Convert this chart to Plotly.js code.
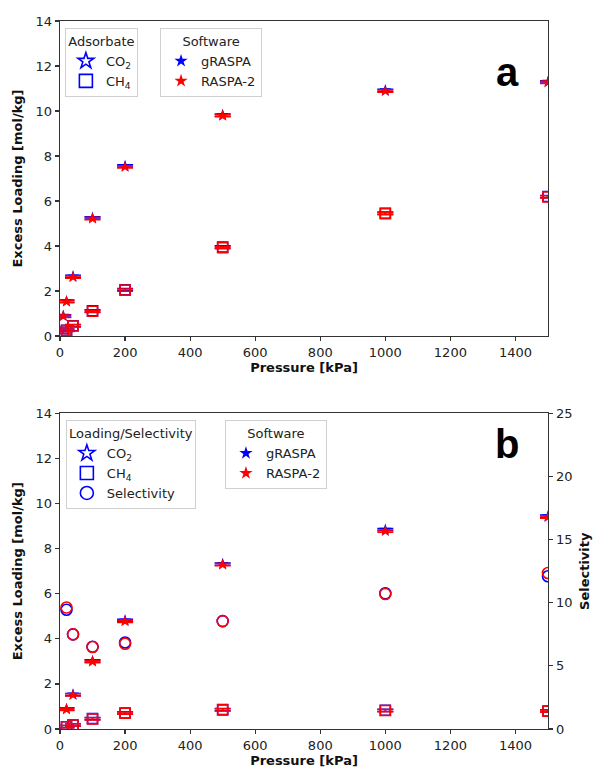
<!DOCTYPE html>
<html>
<head>
<meta charset="utf-8">
<script src="https://cdn.plot.ly/plotly-3.0.1.min.js"></script>
<style>html,body{margin:0;padding:0;background:#fff}#chart{width:597px;height:773px}</style>
</head>
<body>
<div id="chart"></div>
<script>
// ---- Panel a data ----
var pressureA = [10, 20, 40, 100, 200, 500, 1000, 1500];
var co2A_gRASPA = [0.90, 1.55, 2.65, 5.25, 7.56, 9.82, 10.92, 11.30];
var co2A_RASPA2 = [0.88, 1.53, 2.62, 5.22, 7.52, 9.79, 10.88, 11.27];
var ch4A_gRASPA = [0.17, 0.26, 0.46, 1.12, 2.06, 3.96, 5.46, 6.20];
var ch4A_RASPA2 = [0.16, 0.25, 0.45, 1.10, 2.04, 3.93, 5.44, 6.18];
var errA = [0.05, 0.05, 0.05, 0.05, 0.05, 0.05, 0.05, 0.05];

// ---- Panel b data ----
var pressureB = [20, 40, 100, 200, 500, 1000, 1500];
var co2B_gRASPA = [0.89, 1.53, 3.02, 4.82, 7.32, 8.84, 9.44];
var co2B_RASPA2 = [0.87, 1.51, 2.99, 4.78, 7.29, 8.78, 9.40];
var ch4B_gRASPA = [0.10, 0.18, 0.46, 0.71, 0.86, 0.83, 0.80];
var ch4B_RASPA2 = [0.10, 0.18, 0.45, 0.70, 0.85, 0.82, 0.79];
var selB_gRASPA = [9.45, 7.50, 6.52, 6.85, 8.55, 10.75, 12.10];
var selB_RASPA2 = [9.62, 7.50, 6.50, 6.75, 8.55, 10.70, 12.36];
var errB = [0.05, 0.05, 0.05, 0.05, 0.05, 0.05, 0.05];

var BLUE = '#0000ff', RED = '#ff0000';
var FONT = 'DejaVu Sans, sans-serif';

function pts(x, y, err, color, symbol, xa, ya, size) {
  var open = symbol.indexOf('open') >= 0;
  return {
    type: 'scatter', mode: 'markers', x: x, y: y, xaxis: xa, yaxis: ya,
    showlegend: false, cliponaxis: true,
    marker: {symbol: symbol, size: size, color: color,
             line: {color: color, width: open ? 1.6 : 0}},
    error_y: err ? {type: 'data', array: err, visible: true, color: color, thickness: 1.5, width: 8} : undefined
  };
}
function leg(name, symbol, color, legend, size) {
  var open = symbol.indexOf('open') >= 0;
  return {
    type: 'scatter', mode: 'markers', x: [null], y: [null], name: name, legend: legend,
    xaxis: 'x', yaxis: 'y', showlegend: true,
    marker: {symbol: symbol, size: size, color: color,
             line: {color: color, width: open ? 1.6 : 0}}
  };
}

var traces = [
  // panel a
  pts(pressureA, ch4A_gRASPA, errA, BLUE, 'square-open', 'x', 'y', 10),
  pts(pressureA, co2A_gRASPA, errA, BLUE, 'star', 'x', 'y', 9),
  pts(pressureA, ch4A_RASPA2, errA, RED, 'square-open', 'x', 'y', 10),
  pts(pressureA, co2A_RASPA2, errA, RED, 'star', 'x', 'y', 9),
  // panel b
  pts(pressureB, ch4B_gRASPA, errB, BLUE, 'square-open', 'x2', 'y2', 10),
  pts(pressureB, co2B_gRASPA, errB, BLUE, 'star', 'x2', 'y2', 9),
  pts(pressureB, selB_gRASPA, null, BLUE, 'circle-open', 'x2', 'y3', 11),
  pts(pressureB, ch4B_RASPA2, errB, RED, 'square-open', 'x2', 'y2', 10),
  pts(pressureB, co2B_RASPA2, errB, RED, 'star', 'x2', 'y2', 9),
  pts(pressureB, selB_RASPA2, null, RED, 'circle-open', 'x2', 'y3', 11),
  // legend entries
  leg('CO<sub>2</sub>', 'star-open', BLUE, 'legend', 12),
  leg('CH<sub>4</sub>', 'square-open', BLUE, 'legend', 13),
  leg('gRASPA', 'star', BLUE, 'legend2', 10),
  leg('RASPA-2', 'star', RED, 'legend2', 10),
  leg('CO<sub>2</sub>', 'star-open', BLUE, 'legend3', 12),
  leg('CH<sub>4</sub>', 'square-open', BLUE, 'legend3', 13),
  leg('Selectivity', 'circle-open', BLUE, 'legend3', 13),
  leg('gRASPA', 'star', BLUE, 'legend4', 10),
  leg('RASPA-2', 'star', RED, 'legend4', 10)
];

var axisCommon = {
  showgrid: false, zeroline: false, showline: true, linecolor: '#333', linewidth: 1.3,
  ticks: 'outside', ticklen: 4, tickwidth: 1.2, tickcolor: '#333',
  tickfont: {family: FONT, size: 13, color: '#222'}, mirror: true
};
function ax(extra) { return Object.assign({}, axisCommon, extra); }

var legCommon = {
  bgcolor: '#fff', bordercolor: '#d0d0d0', borderwidth: 1,
  font: {family: FONT, size: 13, color: '#222'},
  xanchor: 'left', yanchor: 'top', itemwidth: 30, tracegroupgap: 0
};
function lg(title, x, y) {
  return Object.assign({}, legCommon, {x: x, y: y,
    title: {text: title, side: 'top center', font: {family: FONT, size: 13, color: '#222'}}});
}

var layout = {
  width: 597, height: 773,
  margin: {l: 60, r: 49, t: 21, b: 44},
  paper_bgcolor: '#fff', plot_bgcolor: '#fff',
  font: {family: FONT, color: '#222'},
  xaxis: ax({domain: [0, 1], range: [0, 1500], anchor: 'y', dtick: 200,
    title: {text: '<b>Pressure [kPa]</b>', font: {family: FONT, size: 13, color: '#111'}, standoff: 4}}),
  yaxis: ax({domain: [0.555, 1], range: [0, 14], anchor: 'x', dtick: 2,
    title: {text: '<b>Excess Loading [mol/kg]</b>', font: {family: FONT, size: 13, color: '#111'}, standoff: 10}}),
  xaxis2: ax({domain: [0, 1], range: [0, 1500], anchor: 'y2', dtick: 200,
    title: {text: '<b>Pressure [kPa]</b>', font: {family: FONT, size: 13, color: '#111'}, standoff: 4}}),
  yaxis2: ax({domain: [0, 0.4457], range: [0, 14], anchor: 'x2', dtick: 2,
    title: {text: '<b>Excess Loading [mol/kg]</b>', font: {family: FONT, size: 13, color: '#111'}, standoff: 10}}),
  yaxis3: ax({range: [0, 25], overlaying: 'y2', side: 'right', anchor: 'x2', dtick: 5, mirror: false,
    title: {text: '<b>Selectivity</b>', font: {family: FONT, size: 13, color: '#111'}, standoff: 8}}),
  legend: lg('Adsorbate', 0.01, 0.99),
  legend2: lg('Software', 0.205, 0.99),
  legend3: lg('Loading/Selectivity', 0.012, 0.436),
  legend4: lg('Software', 0.338, 0.436),
  annotations: [
    {text: '<b>a</b>', xref: 'paper', yref: 'paper', x: 0.945, y: 0.962, showarrow: false,
     font: {family: 'Liberation Sans, Arial, sans-serif', size: 40, color: '#000'}},
    {text: '<b>b</b>', xref: 'paper', yref: 'paper', x: 0.945, y: 0.403, showarrow: false,
     font: {family: 'Liberation Sans, Arial, sans-serif', size: 40, color: '#000'}}
  ]
};

Plotly.newPlot('chart', traces, layout, {displayModeBar: false, staticPlot: true});
</script>
</body>
</html>
